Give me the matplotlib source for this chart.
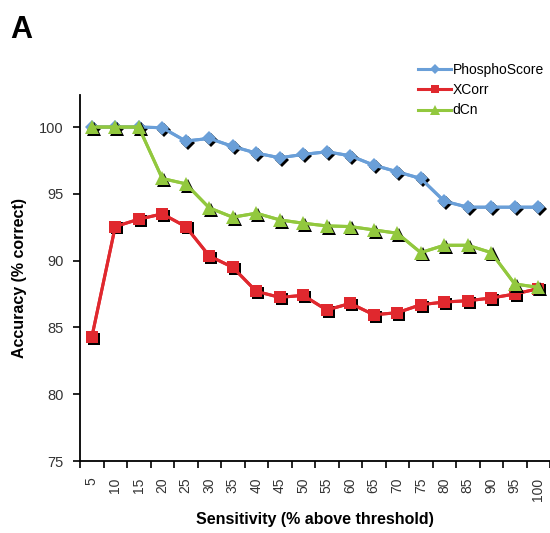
import matplotlib
matplotlib.use("Agg")
import matplotlib.pyplot as plt
import matplotlib.transforms as mtransforms
import numpy as np

plt.rcParams['font.family'] = ['Liberation Sans', 'DejaVu Sans']

sensitivity = [5, 10, 15, 20, 25, 30, 35, 40, 45, 50, 55, 60, 65, 70, 75, 80, 85, 90, 95, 100]
phosphoscore = [100, 100, 100, 99.95, 98.95, 99.15, 98.55, 98.05, 97.7, 97.95, 98.15, 97.85, 97.15, 96.65, 96.15, 94.45, 94.0, 94.0, 94.0, 94.0]
xcorr = [84.25, 92.55, 93.1, 93.5, 92.55, 90.35, 89.5, 87.7, 87.25, 87.4, 86.3, 86.8, 85.95, 86.1, 86.7, 86.9, 87.0, 87.2, 87.5, 87.9]
dcn = [100, 100, 100, 96.15, 95.75, 93.95, 93.25, 93.55, 93.05, 92.8, 92.6, 92.55, 92.3, 92.05, 90.6, 91.15, 91.15, 90.6, 88.25, 88.0]

series = [
    ("PhosphoScore", phosphoscore, "#6a9fd8", "D", 7.5),
    ("XCorr", xcorr, "#e0282e", "s", 8.5),
    ("dCn", dcn, "#92c83e", "^", 10),
]

fig = plt.figure(figsize=(5.5, 5.33), dpi=100)
ax = fig.add_axes([80/550, 1-461/533, 470/550, (461-95)/533])

x = np.arange(len(sensitivity))
shadow = mtransforms.offset_copy(ax.transData, fig=fig, x=1.8, y=-1.8, units='dots')
handles = []
for i, (name, vals, col, mk, ms) in enumerate(series):
    ax.plot(x, vals, color=col, lw=2.2, zorder=2 + i)
    ax.plot(x, vals, linestyle='none', marker=mk, ms=ms, color='black',
            markeredgewidth=0, transform=shadow, zorder=2 + i)
    h, = ax.plot(x, vals, color=col, lw=2.2, marker=mk, ms=ms,
                 markeredgewidth=0, zorder=2.5 + i, label=name)
    handles.append(h)

ax.set_xlim(-0.5, len(sensitivity) - 0.5)
ax.set_ylim(75, 102.4)
ax.set_yticks([75, 80, 85, 90, 95, 100])
ax.set_xticks(x)
ax.set_xticklabels([str(s) for s in sensitivity], rotation=90, fontsize=10)
ax.set_xticks(np.arange(len(sensitivity) + 1) - 0.5, minor=True)
ax.tick_params(axis='x', which='major', length=0, pad=12)
ax.tick_params(axis='x', which='minor', length=5, width=1.2, direction='out')
ax.tick_params(axis='y', labelsize=10.5, length=5, width=1.2, direction='out', colors='black', pad=7)
ax.tick_params(axis='y', labelcolor='#333333')
for lbl in ax.get_xticklabels():
    lbl.set_color('#333333')

for s in ['top', 'right']:
    ax.spines[s].set_visible(False)
ax.spines['left'].set_linewidth(1.3)
ax.spines['bottom'].set_linewidth(1.3)

ax.set_ylabel("Accuracy (% correct)", fontsize=11.5, fontweight='bold')
ax.set_xlabel("Sensitivity (% above threshold)", fontsize=11.5, fontweight='bold', labelpad=8)
ax.yaxis.set_label_coords(-53/470, 0.5)

fig.legend(handles=handles, loc='upper left', bbox_to_anchor=(418/550, 1-63/533),
           frameon=False, fontsize=10, handlelength=2.4, handletextpad=0.1,
           labelspacing=0.45, borderpad=0, borderaxespad=0, markerscale=0.7)

fig.text(10/550, 1-38/533, "A", fontsize=22, fontweight='bold', va='baseline')

fig.savefig("out.png", dpi=100)
